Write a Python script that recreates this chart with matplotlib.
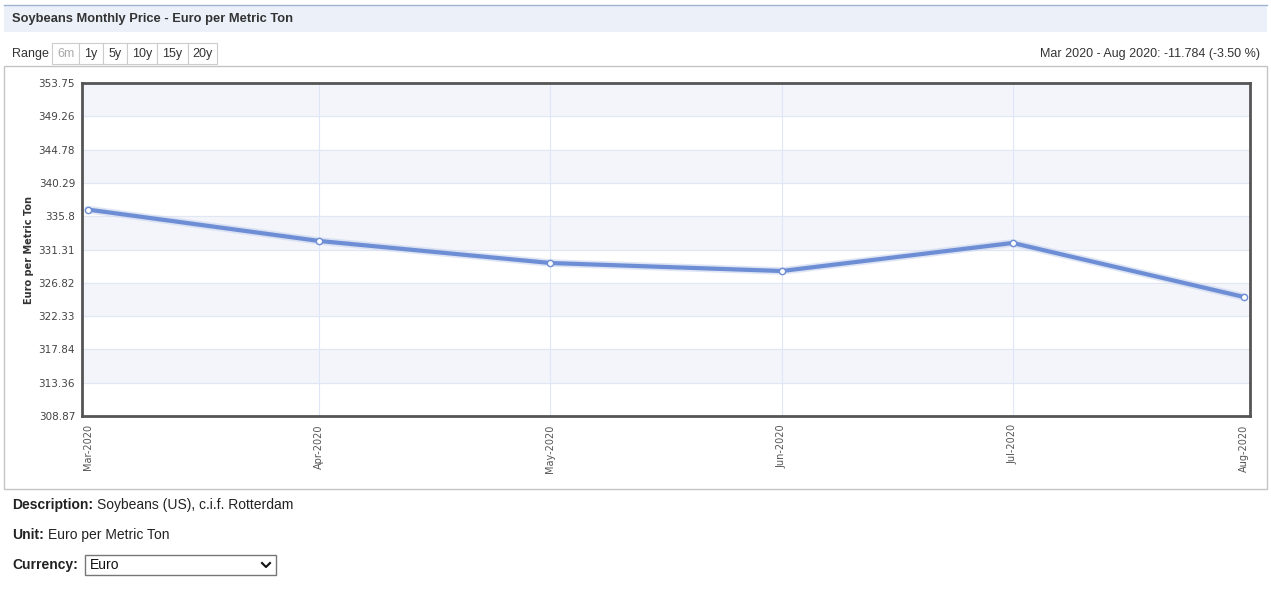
import matplotlib.pyplot as plt
from matplotlib.patches import Rectangle
import numpy as np

plt.rcParams['font.family'] = ['Liberation Sans', 'DejaVu Sans']

# data
months = ["Mar-2020", "Apr-2020", "May-2020", "Jun-2020", "Jul-2020", "Aug-2020"]
prices = [336.69, 332.46, 329.49, 328.41, 332.19, 324.91]
y_ticks = [308.87, 313.36, 317.84, 322.33, 326.82, 331.31, 335.8, 340.29, 344.78, 349.26, 353.75]
ranges = ["6m", "1y", "5y", "10y", "15y", "20y"]

W, H = 1271, 590
fig = plt.figure(figsize=(W / 100, H / 100), dpi=100)


def fx(x):
    return x / W


def fy(y):
    return 1 - y / H


def box(x0, y0, x1, y1, **kw):
    fig.patches.append(Rectangle((fx(x0), fy(y1)), fx(x1) - fx(x0), fy(y0) - fy(y1),
                                 transform=fig.transFigure, **kw))


# header bar
box(4, 5, 1267, 32, facecolor="#ebf0f9", edgecolor="none")
fig.add_artist(plt.Line2D([fx(4), fx(1267)], [fy(5), fy(5)], color="#9fb3d1", lw=1))
fig.text(fx(12), fy(19), "Soybeans Monthly Price - Euro per Metric Ton", fontsize=9.3,
         fontweight="bold", color="#333333", va="center")

# range buttons
fig.text(fx(12), fy(54), "Range", fontsize=9, color="#333333", va="center")
edges = [52, 79, 103, 127, 157, 188, 217]
for i, r in enumerate(ranges):
    box(edges[i], 43, edges[i + 1], 64, facecolor="white", edgecolor="#cccccc", lw=0.8)
    fig.text(fx((edges[i] + edges[i + 1]) / 2), fy(54), r, fontsize=9,
             color="#aaaaaa" if i == 0 else "#333333", ha="center", va="center")
fig.text(fx(1260), fy(54), "Mar 2020 - Aug 2020: -11.784 (-3.50 %)", fontsize=9,
         color="#333333", ha="right", va="center")

# outer chart frame
box(4, 66, 1267, 489, facecolor="none", edgecolor="#c4c4c4", lw=1)

# plot area
ax = fig.add_axes([fx(82), fy(416), fx(1250) - fx(82), fy(83) - fy(416)])
x = np.arange(len(months))
ymin, ymax = y_ticks[0], y_ticks[-1]
for i in range(len(y_ticks) - 1):
    # shaded bands from the top down, every other one
    if (len(y_ticks) - 2 - i) % 2 == 0:
        ax.axhspan(y_ticks[i], y_ticks[i + 1], color="#f3f5fb", zorder=0)
for t in y_ticks[1:-1]:
    ax.axhline(t, color="#e1e6f3", lw=0.8, zorder=1)
for xi in x[1:-1]:
    ax.axvline(xi, color="#dfe6f7", lw=0.8, zorder=1)

ax.plot(x, prices, color="#c9d4ee", lw=5.5, alpha=0.6, zorder=2, solid_capstyle="round")
ax.plot(x, prices, color="#6d8dd5", lw=3, zorder=3, solid_capstyle="round")
ax.plot(x, prices, "o", ms=4.5, mfc="white", mec="#6d8dd5", mew=1, zorder=4)

ax.set_xlim(-0.026, len(months) - 1 + 0.026)
ax.set_ylim(ymin, ymax)
ax.set_yticks(y_ticks)
ax.set_yticklabels([f"{t:g}" for t in y_ticks], fontsize=7.5, color="#444444",
                   family=["DejaVu Sans"])
ax.set_xticks(x)
ax.set_xticklabels(months, rotation=90, fontsize=7, color="#555555",
                   family=["DejaVu Sans"])
ax.tick_params(length=0, pad=6)
ax.tick_params(axis="y", pad=5)
for s in ax.spines.values():
    s.set_color("#555555")
    s.set_linewidth(2)

fig.text(fx(29), fy(250), "Euro per Metric Ton", rotation=90, fontsize=7,
         fontweight="bold", color="#333333", ha="center", va="center",
         family=["DejaVu Sans"])

# description block
def label_value(y, label, value):
    t = fig.text(fx(12), fy(y), label, fontsize=10, fontweight="bold",
                 color="#222222", va="center")
    fig.canvas.draw()
    bb = t.get_window_extent()
    fig.text((bb.x1 + 4) / W, fy(y), value, fontsize=10, color="#222222", va="center")


label_value(505, "Description:", "Soybeans (US), c.i.f. Rotterdam")
label_value(535, "Unit:", "Euro per Metric Ton")
fig.text(fx(12), fy(565), "Currency:", fontsize=10, fontweight="bold",
         color="#222222", va="center")
box(85, 555, 276, 575, facecolor="white", edgecolor="#767676", lw=1)
fig.text(fx(90), fy(565), "Euro", fontsize=10, color="#111111", va="center")
fig.add_artist(plt.Line2D([fx(262), fx(266), fx(270)], [fy(563), fy(567), fy(563)],
                          color="#111111", lw=1.5))

fig.savefig("out.png", dpi=100)
